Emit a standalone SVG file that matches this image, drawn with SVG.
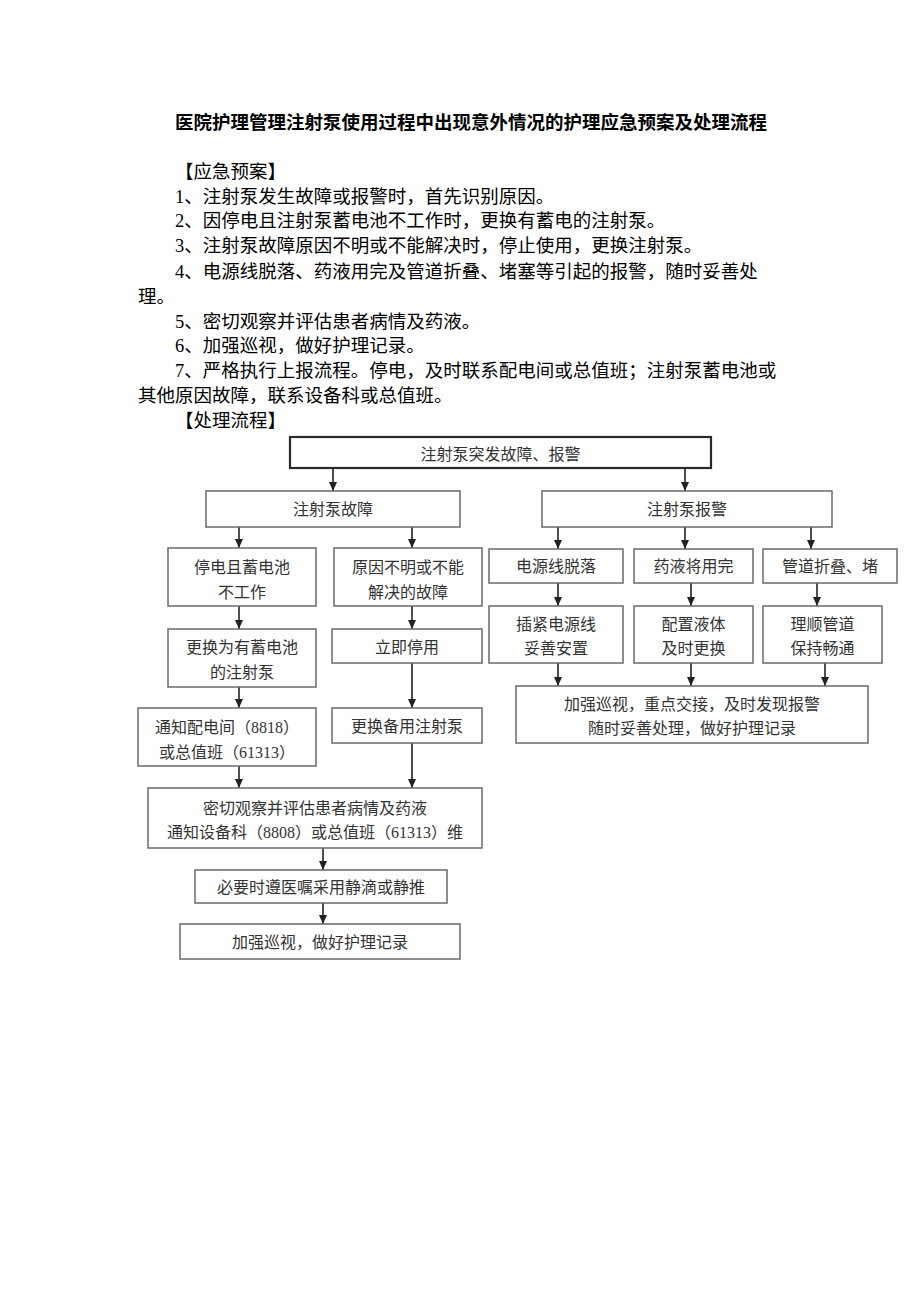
<svg xmlns="http://www.w3.org/2000/svg" width="920" height="1301" viewBox="0 0 920 1301">
<style>
.t{font-family:"Liberation Serif","Noto Sans CJK SC",serif;font-size:18.5px;fill:#000;dominant-baseline:central}
.title{font-weight:bold}
.b{fill:#fff;stroke:#6a6a6a;stroke-width:1.5}
.top{fill:#fff;stroke:#2a2a2a;stroke-width:2.2}
.n{font-family:"Liberation Serif","Noto Sans CJK SC",serif;font-size:16px;fill:#333;text-anchor:middle;dominant-baseline:central}
.c{stroke:#222;stroke-width:1.6;fill:none;marker-end:url(#arr)}
</style>
<defs>
<marker id="arr" viewBox="0 0 10 10" refX="10" refY="5" markerWidth="9" markerHeight="8" markerUnits="userSpaceOnUse" orient="auto" preserveAspectRatio="none">
<path d="M0,0 L10,5 L0,10 z" fill="#222"/>
</marker>
</defs>
<rect width="920" height="1301" fill="#fff"/>
<g id="text">
<text class="t title" x="175" y="123">医院护理管理注射泵使用过程中出现意外情况的护理应急预案及处理流程</text>
<text class="t" x="175" y="171.5">【应急预案】</text>
<text class="t" x="175" y="196.5">1、注射泵发生故障或报警时，首先识别原因。</text>
<text class="t" x="175" y="221">2、因停电且注射泵蓄电池不工作时，更换有蓄电的注射泵。</text>
<text class="t" x="175" y="246">3、注射泵故障原因不明或不能解决时，停止使用，更换注射泵。</text>
<text class="t" x="175" y="271.5">4、电源线脱落、药液用完及管道折叠、堵塞等引起的报警，随时妥善处</text>
<text class="t" x="138" y="296.5">理。</text>
<text class="t" x="175" y="321.5">5、密切观察并评估患者病情及药液。</text>
<text class="t" x="175" y="346">6、加强巡视，做好护理记录。</text>
<text class="t" x="175" y="371">7、严格执行上报流程。停电，及时联系配电间或总值班；注射泵蓄电池或</text>
<text class="t" x="138" y="396">其他原因故障，联系设备科或总值班。</text>
<text class="t" x="175" y="420.5">【处理流程】</text>
</g>
<g id="connectors">
<line class="c" x1="333" y1="468" x2="333" y2="491"/>
<line class="c" x1="685" y1="468" x2="685" y2="491"/>
<line class="c" x1="239" y1="527" x2="239" y2="548"/>
<line class="c" x1="412" y1="527" x2="412" y2="548"/>
<line class="c" x1="239" y1="606" x2="239" y2="629"/>
<line class="c" x1="239" y1="687" x2="239" y2="708"/>
<line class="c" x1="239" y1="766" x2="239" y2="788"/>
<line class="c" x1="412" y1="606" x2="412" y2="629"/>
<line class="c" x1="412" y1="663" x2="412" y2="708"/>
<line class="c" x1="412" y1="743" x2="412" y2="788"/>
<line class="c" x1="323" y1="848" x2="323" y2="870"/>
<line class="c" x1="323" y1="903" x2="323" y2="924"/>
<line class="c" x1="558" y1="527" x2="558" y2="549"/>
<line class="c" x1="685" y1="527" x2="685" y2="549"/>
<line class="c" x1="811" y1="527" x2="811" y2="549"/>
<line class="c" x1="558" y1="583" x2="558" y2="606"/>
<line class="c" x1="691" y1="583" x2="691" y2="606"/>
<line class="c" x1="817" y1="583" x2="817" y2="606"/>
<line class="c" x1="558" y1="663" x2="558" y2="686"/>
<line class="c" x1="691" y1="663" x2="691" y2="686"/>
<line class="c" x1="825" y1="663" x2="825" y2="686"/>
</g>
<g id="n-top"><rect class="top" x="290" y="437" width="421" height="31"/><text class="n" x="500.5" y="454">注射泵突发故障、报警</text></g>
<g id="n-fault"><rect class="b" x="206" y="491" width="254" height="36"/><text class="n" x="333" y="509">注射泵故障</text></g>
<g id="n-alarm"><rect class="b" x="542" y="491" width="290" height="36"/><text class="n" x="687" y="509">注射泵报警</text></g>
<g id="n-power"><rect class="b" x="168" y="548" width="148" height="58"/><text class="n" x="242" y="567.5">停电且蓄电池</text><text class="n" x="242" y="592.5">不工作</text></g>
<g id="n-unknown"><rect class="b" x="334" y="548" width="148" height="58"/><text class="n" x="408" y="567.5">原因不明或不能</text><text class="n" x="408" y="592.5">解决的故障</text></g>
<g id="n-replace-bat"><rect class="b" x="168" y="629" width="148" height="58"/><text class="n" x="242" y="647.5">更换为有蓄电池</text><text class="n" x="242" y="672.5">的注射泵</text></g>
<g id="n-stop"><rect class="b" x="332" y="629" width="150" height="34"/><text class="n" x="407" y="647">立即停用</text></g>
<g id="n-notify-power"><rect class="b" x="138" y="708" width="178" height="58"/><text class="n" x="227" y="727">通知配电间（8818）</text><text class="n" x="227" y="752">或总值班（61313）</text></g>
<g id="n-spare"><rect class="b" x="332" y="708" width="150" height="35"/><text class="n" x="407" y="726">更换备用注射泵</text></g>
<g id="n-observe"><rect class="b" x="148" y="788" width="334" height="60"/><text class="n" x="315" y="808">密切观察并评估患者病情及药液</text><text class="n" x="315" y="832">通知设备科（8808）或总值班（61313）维</text></g>
<g id="n-order"><rect class="b" x="195" y="870" width="252" height="33"/><text class="n" x="321" y="887">必要时遵医嘱采用静滴或静推</text></g>
<g id="n-record"><rect class="b" x="180" y="924" width="280" height="35"/><text class="n" x="320" y="942">加强巡视，做好护理记录</text></g>
<g id="n-cord"><rect class="b" x="489" y="549" width="134" height="34"/><text class="n" x="556" y="566.5">电源线脱落</text></g>
<g id="n-empty"><rect class="b" x="634" y="549" width="119" height="34"/><text class="n" x="693.5" y="566.5">药液将用完</text></g>
<g id="n-tube"><rect class="b" x="763" y="549" width="134" height="34"/><text class="n" x="830" y="566.5">管道折叠、堵</text></g>
<g id="n-plug"><rect class="b" x="489" y="606" width="134" height="57"/><text class="n" x="556" y="624.5">插紧电源线</text><text class="n" x="556" y="648.5">妥善安置</text></g>
<g id="n-refill"><rect class="b" x="634" y="606" width="119" height="57"/><text class="n" x="693.5" y="624.5">配置液体</text><text class="n" x="693.5" y="648.5">及时更换</text></g>
<g id="n-clear"><rect class="b" x="763" y="606" width="119" height="57"/><text class="n" x="822.5" y="624.5">理顺管道</text><text class="n" x="822.5" y="648.5">保持畅通</text></g>
<g id="n-patrol"><rect class="b" x="516" y="686" width="352" height="57"/><text class="n" x="692" y="704.5">加强巡视，重点交接，及时发现报警</text><text class="n" x="692" y="728.5">随时妥善处理，做好护理记录</text></g>
</svg>
